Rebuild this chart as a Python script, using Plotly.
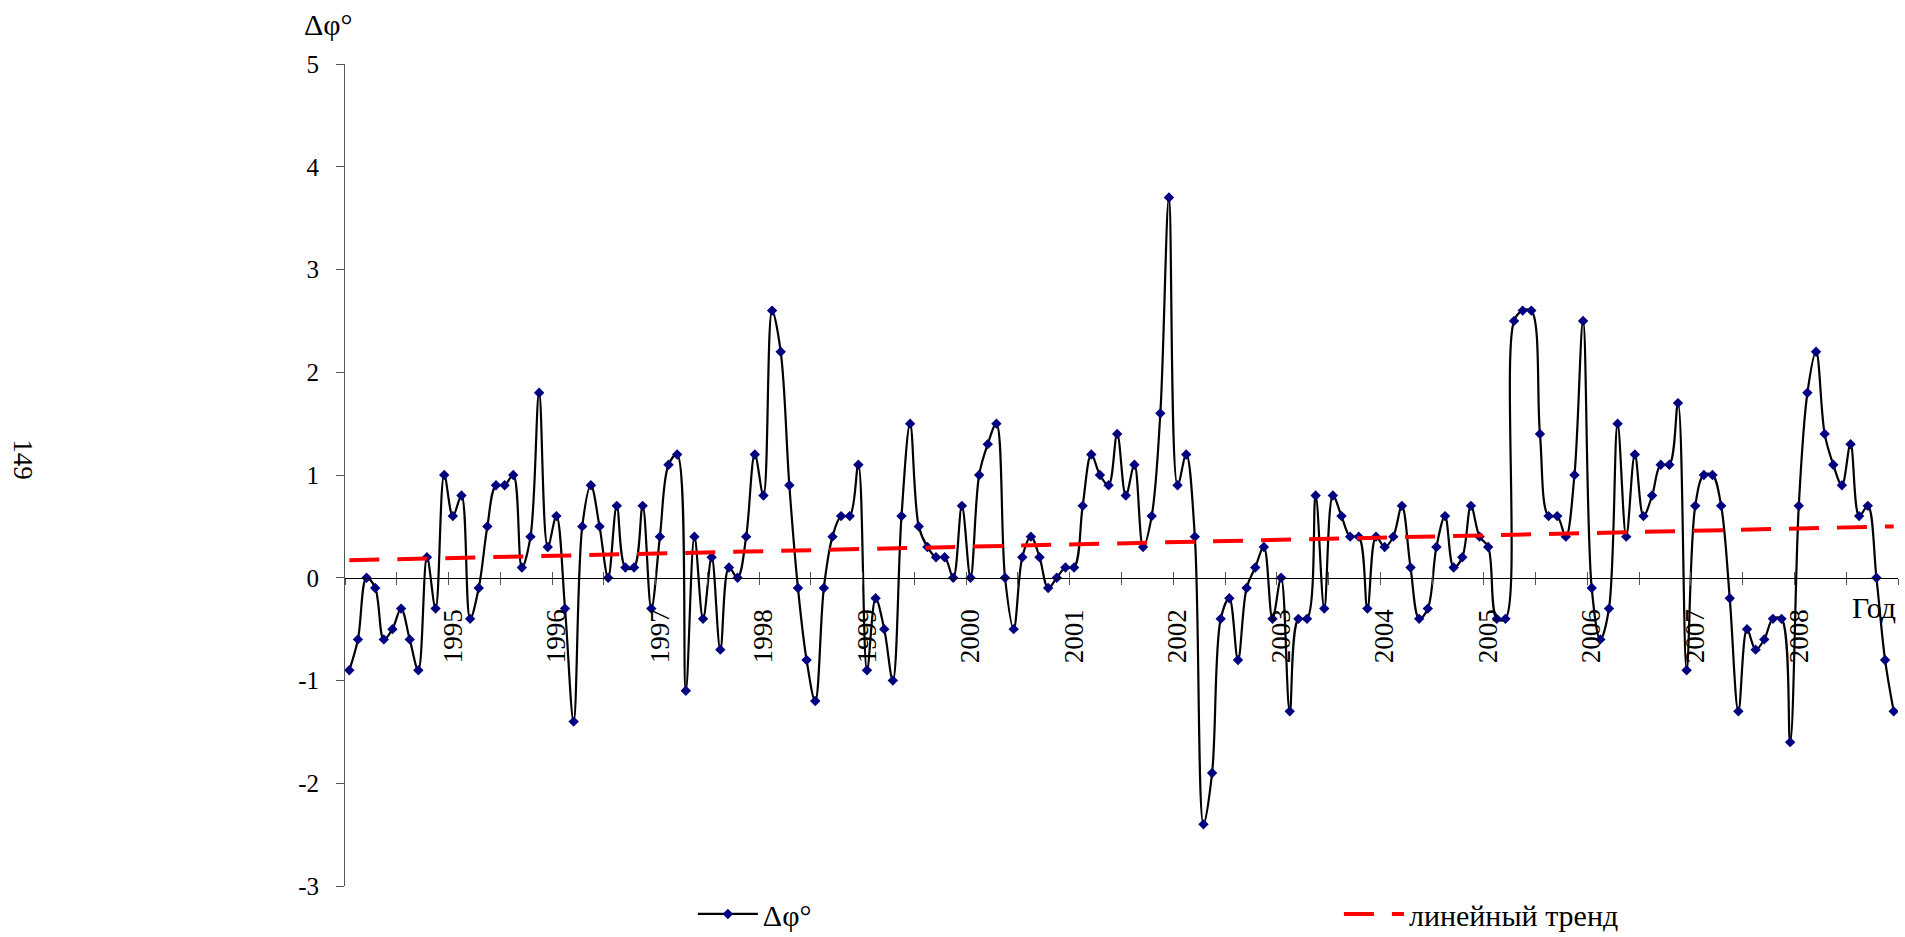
import plotly.graph_objects as go

# Monthly values Jan 1994 .. Dec 2008
dphi = [
    -0.9, -0.6, 0.0, -0.1, -0.6, -0.5, -0.3, -0.6, -0.9, 0.2, -0.3, 1.0,   # 1994
    0.6, 0.8, -0.4, -0.1, 0.5, 0.9, 0.9, 1.0, 0.1, 0.4, 1.8, 0.3,          # 1995
    0.6, -0.3, -1.4, 0.5, 0.9, 0.5, 0.0, 0.7, 0.1, 0.1, 0.7, -0.3,         # 1996
    0.4, 1.1, 1.2, -1.1, 0.4, -0.4, 0.2, -0.7, 0.1, 0.0, 0.4, 1.2,         # 1997
    0.8, 2.6, 2.2, 0.9, -0.1, -0.8, -1.2, -0.1, 0.4, 0.6, 0.6, 1.1,        # 1998
    -0.9, -0.2, -0.5, -1.0, 0.6, 1.5, 0.5, 0.3, 0.2, 0.2, 0.0, 0.7,        # 1999
    0.0, 1.0, 1.3, 1.5, 0.0, -0.5, 0.2, 0.4, 0.2, -0.1, 0.0, 0.1,          # 2000
    0.1, 0.7, 1.2, 1.0, 0.9, 1.4, 0.8, 1.1, 0.3, 0.6, 1.6, 3.7,            # 2001
    0.9, 1.2, 0.4, -2.4, -1.9, -0.4, -0.2, -0.8, -0.1, 0.1, 0.3, -0.4,     # 2002
    0.0, -1.3, -0.4, -0.4, 0.8, -0.3, 0.8, 0.6, 0.4, 0.4, -0.3, 0.4,       # 2003
    0.3, 0.4, 0.7, 0.1, -0.4, -0.3, 0.3, 0.6, 0.1, 0.2, 0.7, 0.4,          # 2004
    0.3, -0.4, -0.4, 2.5, 2.6, 2.6, 1.4, 0.6, 0.6, 0.4, 1.0, 2.5,          # 2005
    -0.1, -0.6, -0.3, 1.5, 0.4, 1.2, 0.6, 0.8, 1.1, 1.1, 1.7, -0.9,        # 2006
    0.7, 1.0, 1.0, 0.7, -0.2, -1.3, -0.5, -0.7, -0.6, -0.4, -0.4, -1.6,    # 2007
    0.7, 1.8, 2.2, 1.4, 1.1, 0.9, 1.3, 0.6, 0.7, 0.0, -0.8, -1.3,          # 2008
]
year_labels = [str(y) for y in range(1995, 2009)]
trend_ends = [0.17, 0.50]
y_ticks = [-3, -2, -1, 0, 1, 2, 3, 4, 5]
y_tick_text = ["-3", "-2", "-1", "0", "1", "2", "3", "4", "5"]

FONT = '"Liberation Serif", "Times New Roman", "DejaVu Serif", serif'
months = list(range(len(dphi)))
label_pos = [12 * (k + 1) for k in range(len(year_labels))]
boundaries = [-0.5 + 6 * k for k in range(len(dphi) // 6 + 1)]
xr = [-0.5, len(dphi) - 0.5]

fig = go.Figure()
fig.add_trace(go.Scatter(
    x=months, y=dphi, mode="lines+markers", name="Δφ°", legend="legend",
    line=dict(color="black", width=2.2, shape="spline", smoothing=1.0),
    marker=dict(symbol="diamond", size=8, color="#000080", line=dict(width=0)),
))
fig.add_trace(go.Scatter(
    x=[months[0], months[-1]], y=trend_ends, mode="lines", name="линейный тренд",
    legend="legend2",
    line=dict(color="#FF0000", width=4, dash="30px,18px"),
))
# invisible helpers so the overlay axes are drawn
for ax in ["x2", "x3"]:
    fig.add_trace(go.Scatter(
        x=months[:1], y=dphi[:1], xaxis=ax, yaxis="y", mode="markers",
        marker=dict(opacity=0), showlegend=False, hoverinfo="skip",
    ))

axis_pos = (0 - y_ticks[0]) / (y_ticks[-1] - y_ticks[0])
legend_common = dict(
    orientation="h", xanchor="left", y=-0.034, yanchor="middle",
    font=dict(family=FONT, size=30, color="black"),
    bgcolor="rgba(0,0,0,0)", itemwidth=60,
)

fig.update_layout(
    width=1905, height=937,
    margin=dict(l=345, r=7, t=64, b=51, autoexpand=False),
    paper_bgcolor="white", plot_bgcolor="white",
    font=dict(family=FONT, size=25, color="black"),
    showlegend=True,
    legend=dict(x=0.224, **legend_common),
    legend2=dict(x=0.640, **legend_common),
    xaxis=dict(
        range=xr, anchor="free", position=axis_pos,
        showline=True, linecolor="black", linewidth=1,
        ticks="outside", ticklen=6, tickcolor="#555", tickwidth=1,
        tickmode="array", tickvals=boundaries, showticklabels=False,
        showgrid=False, zeroline=False,
    ),
    xaxis2=dict(
        range=xr, overlaying="x", anchor="free", position=axis_pos,
        showline=False, ticks="",
        tickmode="array", tickvals=label_pos, ticktext=year_labels,
        tickangle=-90, tickfont=dict(family=FONT, size=27, color="black"),
        ticklabelstandoff=25, showgrid=False, zeroline=False,
    ),
    xaxis3=dict(
        range=xr, overlaying="x", anchor="free", position=axis_pos,
        showline=False, ticks="inside", ticklen=6, tickcolor="#555", tickwidth=1,
        tickmode="array", tickvals=boundaries, showticklabels=False,
        showgrid=False, zeroline=False,
    ),
    yaxis=dict(
        range=[y_ticks[0], y_ticks[-1]], tickmode="array", tickvals=y_ticks,
        ticktext=y_tick_text,
        showline=True, linecolor="#555", linewidth=1,
        ticks="outside", ticklen=8, tickcolor="#555",
        tickfont=dict(family=FONT, size=25, color="black"),
        ticklabelstandoff=12, showgrid=False, zeroline=False,
    ),
    annotations=[
        dict(text="Δφ°", xref="paper", x=0, xshift=-17, xanchor="center",
             yref="y", y=y_ticks[-1], yshift=40, yanchor="middle", showarrow=False,
             font=dict(family=FONT, size=30, color="black")),
        dict(text="Год", xref="x", x=xr[1], xanchor="right",
             yref="y", y=0, yshift=-30, yanchor="middle", showarrow=False,
             font=dict(family=FONT, size=30, color="black")),
        dict(text="149", xref="paper", x=-0.2073, xanchor="center",
             yref="paper", y=0.519, yanchor="middle", textangle=90, showarrow=False,
             font=dict(family=FONT, size=27, color="black")),
    ],
)

fig.write_html("out.html")
